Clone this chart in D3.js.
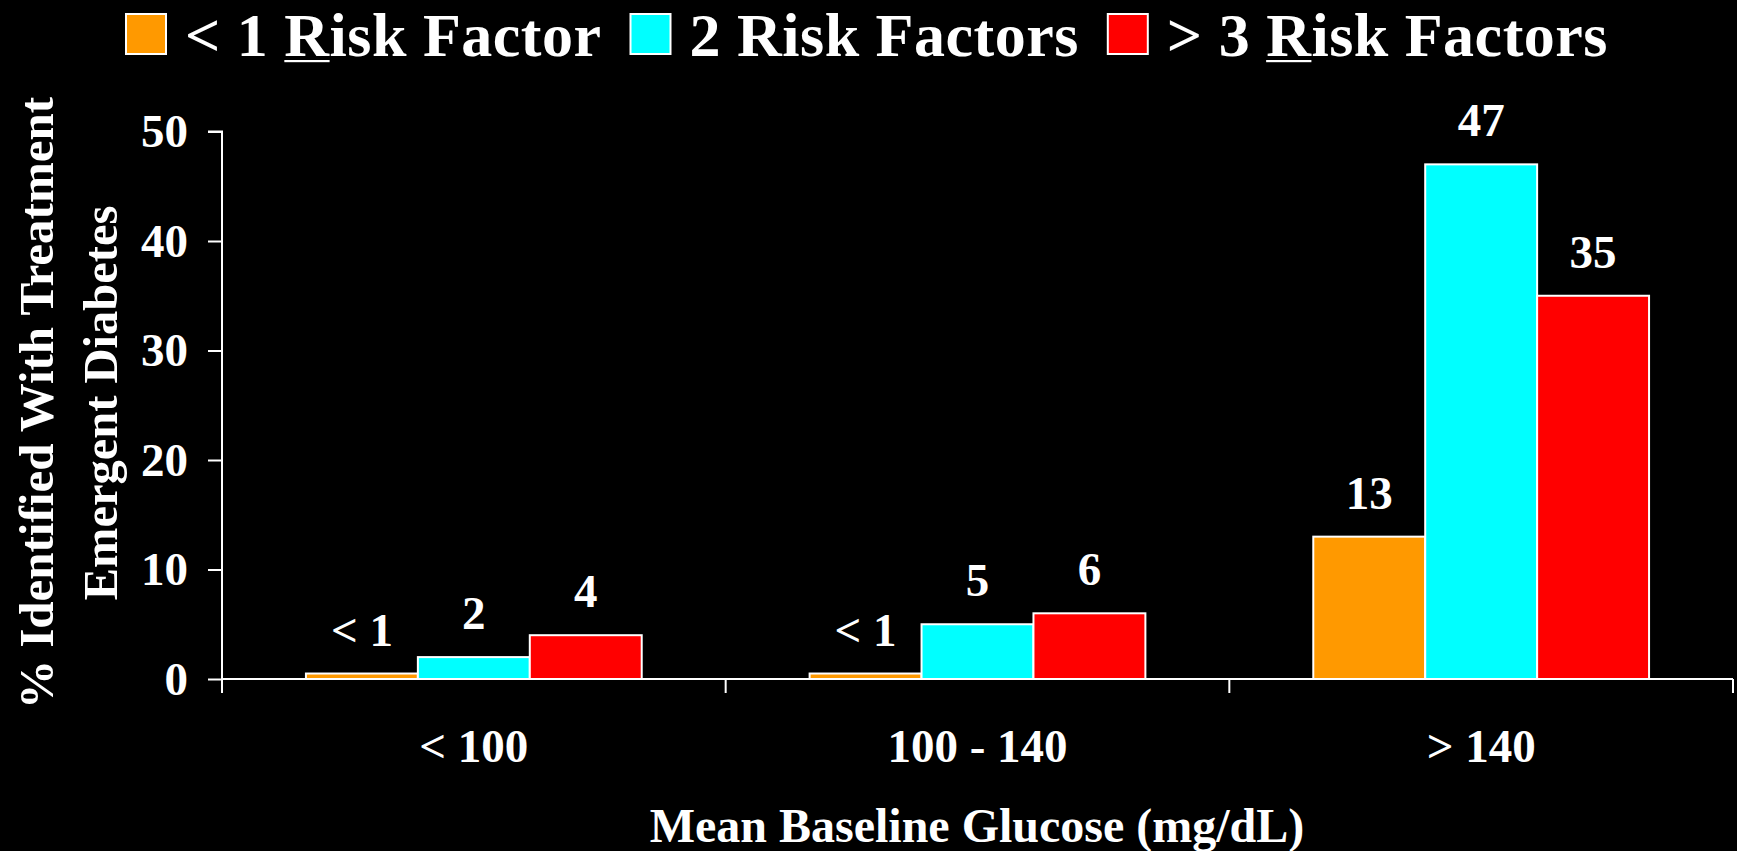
<!DOCTYPE html>
<html>
<head>
<meta charset="utf-8">
<script src="https://cdn.jsdelivr.net/npm/d3@7/dist/d3.min.js"></script>
<style>
  html, body { margin: 0; padding: 0; background: #000; }
  svg { display: block; }
  text { font-family: "Liberation Serif", "Times New Roman", serif; font-weight: bold; fill: #fff; }
</style>
</head>
<body>
<svg id="chart" width="1737" height="851"></svg>
<script>
// ---- data ----
const categories = ["< 100", "100 - 140", "> 140"];
const seriesNames = ["< 1 Risk Factor", "2 Risk Factors", "> 3 Risk Factors"];
const seriesUnderlineR = [true, false, true];
const seriesColors = ["#ff9900", "#00ffff", "#ff0000"];
const lowRiskValues = [0.5, 0.5, 13];
const midRiskValues = [2, 5, 47];
const highRiskValues = [4, 6, 35];
const lowRiskLabels = ["< 1", "< 1", "13"];
const midRiskLabels = ["2", "5", "47"];
const highRiskLabels = ["4", "6", "35"];
const yTicks = [0, 10, 20, 30, 40, 50];
const yTitleLines = ["% Identified With Treatment", "Emergent Diabetes"];
const xTitle = "Mean Baseline Glucose (mg/dL)";

(function () {
const seriesValues = [lowRiskValues, midRiskValues, highRiskValues];
const seriesLabels = [lowRiskLabels, midRiskLabels, highRiskLabels];

// ---- layout ----
const svg = d3.select("#chart");
svg.append("rect").attr("width", 1737).attr("height", 851).attr("fill", "#000");

const plotLeft = 222, plotRight = 1733, plotTop = 131.5, plotBottom = 679;

const x0 = d3.scaleBand().domain(categories).range([plotLeft, plotRight]).padding(0);
const x1 = d3.scaleBand().domain(d3.range(seriesNames.length)).range([0, x0.bandwidth()])
  .paddingInner(0).paddingOuter(0.75);
const y = d3.scaleLinear().domain([0, 50]).range([plotBottom, plotTop]);
const color = d3.scaleOrdinal().domain(d3.range(seriesNames.length)).range(seriesColors);

// bars
const rows = [];
categories.forEach((c, ci) => {
  seriesNames.forEach((s, si) => {
    rows.push({ cat: c, si, value: seriesValues[si][ci], label: seriesLabels[si][ci] });
  });
});

svg.append("g").selectAll("rect").data(rows).join("rect")
  .attr("x", d => x0(d.cat) + x1(d.si))
  .attr("y", d => y(d.value))
  .attr("width", x1.bandwidth())
  .attr("height", d => y(0) - y(d.value))
  .attr("fill", d => color(d.si))
  .attr("stroke", "#ffffff")
  .attr("stroke-width", 2);

// value labels
svg.append("g").selectAll("text").data(rows).join("text")
  .attr("x", d => x0(d.cat) + x1(d.si) + x1.bandwidth() / 2)
  .attr("y", d => y(d.value) - 28)
  .attr("text-anchor", "middle")
  .style("font-size", "47px")
  .text(d => d.label);

// y axis
const yAxis = svg.append("g").attr("transform", `translate(${plotLeft},0)`)
  .call(d3.axisLeft(y).tickValues(yTicks).tickSize(14).tickPadding(20).tickFormat(d3.format("d")));
yAxis.select(".domain").attr("stroke", "#fff").attr("stroke-width", 2).attr("d", `M-14,${plotTop}H0V${plotBottom}`);
yAxis.selectAll(".tick line").attr("stroke", "#fff").attr("stroke-width", 2);
yAxis.selectAll(".tick text").attr("fill", "#fff")
  .style("font-family", "'Liberation Serif', 'Times New Roman', serif")
  .style("font-weight", "bold").style("font-size", "47px");

// x axis line and boundary ticks
const xg = svg.append("g");
xg.append("line").attr("x1", plotLeft).attr("x2", plotRight).attr("y1", y(0)).attr("y2", y(0))
  .attr("stroke", "#fff").attr("stroke-width", 2);
const boundaries = categories.map(c => x0(c)).concat([x0.range()[1]]);
xg.selectAll("line.tk").data(boundaries).join("line").attr("class", "tk")
  .attr("x1", d => d).attr("x2", d => d).attr("y1", y(0)).attr("y2", y(0) + 14)
  .attr("stroke", "#fff").attr("stroke-width", 2);
xg.selectAll("text").data(categories).join("text")
  .attr("x", d => x0(d) + x0.bandwidth() / 2)
  .attr("y", 762)
  .attr("text-anchor", "middle")
  .style("font-size", "47px")
  .text(d => d);

// x title
svg.append("text").attr("x", 977).attr("y", 842).attr("text-anchor", "middle")
  .style("font-size", "48px").text(xTitle);

// y title (clipped at top like the reference)
svg.append("clipPath").attr("id", "ytclip").append("rect")
  .attr("x", 0).attr("y", 97).attr("width", 140).attr("height", 760);
const yt = svg.append("g").attr("clip-path", "url(#ytclip)");
const yTitleX = [53, 117];
const yTitleSize = [49, 48.5];
yTitleLines.forEach((t, i) => {
  yt.append("text")
    .attr("transform", `translate(${yTitleX[i]},403) rotate(-90)`)
    .attr("text-anchor", "middle")
    .style("font-size", yTitleSize[i] + "px")
    .text(t);
});

// legend
const legend = svg.append("g");
let lx = 126;
seriesNames.forEach((name, i) => {
  legend.append("rect").attr("x", lx).attr("y", 14).attr("width", 40).attr("height", 40)
    .attr("fill", seriesColors[i]).attr("stroke", "#fff").attr("stroke-width", 2);
  const t = legend.append("text").attr("x", lx + 59).attr("y", 55.5)
    .style("font-size", "62px").style("letter-spacing", "0.5px").text(name);
  const idx = name.indexOf("R");
  if (seriesUnderlineR[i] && idx >= 0) {
    const sx = t.node().getStartPositionOfChar(idx).x;
    const ex = t.node().getEndPositionOfChar(idx).x;
    legend.append("rect").attr("x", sx).attr("y", 60).attr("width", ex - sx).attr("height", 2.2)
      .attr("fill", "#fff");
  }
  const w = t.node().getComputedTextLength();
  lx = lx + 59 + w + 29;
});
})();
</script>
</body>
</html>
